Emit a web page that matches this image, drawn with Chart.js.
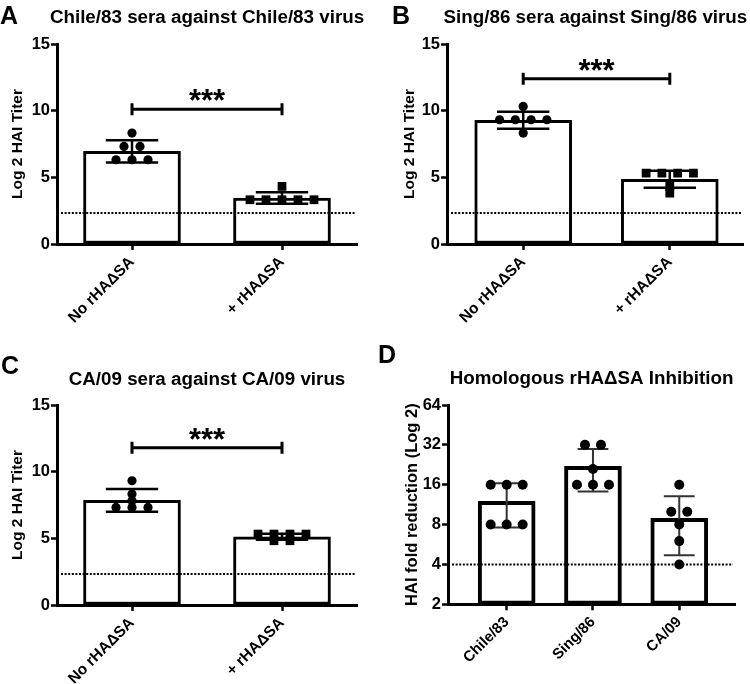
<!DOCTYPE html>
<html>
<head>
<meta charset="utf-8">
<script src="https://cdn.jsdelivr.net/npm/chart.js@4.4.1/dist/chart.umd.min.js"></script>
<style>
  body { margin: 0; background: #fff; }
  #wrap { position: relative; width: 750px; height: 684px; }
  .panel { position: absolute; width: 375px; height: 342px; }
</style>
</head>
<body>
<div id="wrap">
  <div class="panel" style="left:0;top:0"><canvas id="panelA" width="375" height="342"></canvas></div>
  <div class="panel" style="left:375px;top:0"><canvas id="panelB" width="375" height="342"></canvas></div>
  <div class="panel" style="left:0;top:342px"><canvas id="panelC" width="375" height="342"></canvas></div>
  <div class="panel" style="left:375px;top:342px"><canvas id="panelD" width="375" height="342"></canvas></div>
</div>
<script>
// categories and tick labels
const groupLabels = ['No rHA\u0394SA', '+ rHA\u0394SA'];
const strainLabels = ['Chile/83', 'Sing/86', 'CA/09'];
const titerTicks = [0, 5, 10, 15];
const foldTicks = [2, 4, 8, 16, 32, 64];

// A - Chile/83 (log2 HAI titer per animal)
const chileNo = [8.32, 7.32, 7.32, 6.32, 6.32, 6.32];
const chilePlus = [4.32, 3.32, 3.32, 3.32, 3.32, 3.32];
const chileMeans = [6.95, 3.45];
const chileSD = [0.83, 0.43];

// B - Sing/86
const singNo = [10.32, 9.32, 9.32, 9.32, 9.32, 8.32];
const singPlus = [5.32, 5.32, 5.32, 5.32, 4.32, 3.82];
const singMeans = [9.28, 4.85];
const singSD = [0.63, 0.64];

// C - CA/09
const caNo = [9.32, 8.32, 7.82, 7.32, 7.32, 7.32];
const caPlus = [5.32, 5.32, 5.32, 5.32, 4.82, 4.82];
const caMeans = [7.85, 5.12];
const caSD = [0.85, 0.23];

// D - fold reduction
const foldChile = [16, 16, 16, 8, 8, 8];
const foldSing = [32, 32, 21, 16, 16, 16];
const foldCA = [16, 10, 10, 8, 6, 4];
const foldMeans = [12, 22, 8.9];
const foldSD = [4.4, 7.8, 4.2];

const titerCutoff = 2.32;
const foldCutoff = 4;
const sigHeights = [10.1, 12.4, 11.8];
const sigLabel = '***';

const FONT = "'Liberation Sans', Arial, sans-serif";
Chart.defaults.font.family = FONT;
Chart.defaults.color = '#000';

// same values sit side by side, like the original scatter
function spread(values, center, gapUnits) {
  const counts = {}, seen = {};
  values.forEach(v => { counts[v] = (counts[v] || 0) + 1; });
  return values.map(v => {
    const k = seen[v] = (seen[v] || 0) + 1;
    return { x: center + (k - 1 - (counts[v] - 1) / 2) * gapUnits, y: v };
  });
}

function decor(p) {
  return {
    id: 'decor',
    afterDatasetDraw(chart, args) {
      if (args.index !== 0) return;
      const {ctx, chartArea: a, scales: {x, y}} = chart;
      ctx.save();
      // detection limit
      const yc = y.getPixelForValue(p.cutoff);
      ctx.strokeStyle = '#000';
      ctx.lineWidth = 2;
      ctx.setLineDash([2, 1.6]);
      ctx.beginPath();
      ctx.moveTo(a.left + 4, yc);
      ctx.lineTo(a.right - 2, yc);
      ctx.stroke();
      ctx.setLineDash([]);
      // SD error bars
      ctx.lineWidth = p.errWidth;
      ctx.strokeStyle = p.errColor;
      const cap = p.barPx * 0.27;
      p.means.forEach((m, i) => {
        const px = x.getPixelForValue(i);
        const t = y.getPixelForValue(m + p.sds[i]);
        const b = y.getPixelForValue(m - p.sds[i]);
        ctx.beginPath();
        ctx.moveTo(px, t); ctx.lineTo(px, b);
        ctx.moveTo(px - cap, t); ctx.lineTo(px + cap, t);
        ctx.moveTo(px - cap, b); ctx.lineTo(px + cap, b);
        ctx.stroke();
      });
      ctx.restore();
    },
    afterDraw(chart) {
      const {ctx, chartArea: a, scales: {x, y}} = chart;
      ctx.save();
      ctx.fillStyle = '#000';
      if (p.sig != null) {
        const x0 = x.getPixelForValue(0), x1 = x.getPixelForValue(1);
        const ys = y.getPixelForValue(p.sig);
        ctx.strokeStyle = '#000';
        ctx.lineWidth = 3;
        ctx.beginPath();
        ctx.moveTo(x0, ys); ctx.lineTo(x1, ys);
        ctx.moveTo(x0, ys - 6); ctx.lineTo(x0, ys + 6);
        ctx.moveTo(x1, ys - 6); ctx.lineTo(x1, ys + 6);
        ctx.stroke();
        ctx.font = 'bold 31px ' + FONT;
        ctx.textAlign = 'center';
        ctx.textBaseline = 'alphabetic';
        ctx.fillText(sigLabel, (x0 + x1) / 2, ys + 2);
      }
      ctx.font = 'bold 18.8px ' + FONT;
      ctx.textAlign = 'center';
      ctx.textBaseline = 'alphabetic';
      ctx.fillText(p.title, (a.left + a.right) / 2, p.titleY);
      ctx.font = 'bold 25px ' + FONT;
      ctx.textAlign = 'left';
      ctx.fillText(p.letter, p.letterX, p.letterY);
      ctx.restore();
    }
  };
}

function buildPanel(id, p) {
  const W = 375, H = 342;
  const unitPx = (p.right - p.left) / (p.xMax - p.xMin);
  const pts = [], styles = [], radii = [];
  p.groups.forEach((vals, i) => {
    spread(vals, i, 16 / unitPx).forEach(pt => {
      pts.push(pt);
      styles.push(p.marks[i]);
      radii.push(p.marks[i] === 'rect' ? 6.2 : p.dotR);
    });
  });
  const yScale = {
    type: p.yType,
    min: p.yMin,
    max: p.yMax,
    afterBuildTicks: s => { s.ticks = p.yTicks.map(v => ({ value: v })); },
    afterFit: s => { s.width = p.left; },
    grid: { drawOnChartArea: false, tickLength: 6, tickWidth: 2.5, tickColor: '#000' },
    border: { color: '#000', width: 3 },
    ticks: { color: '#000', padding: 1, font: { size: 16.5, weight: 'bold' }, callback: v => String(v) },
    title: { display: true, text: p.yTitle, color: '#000', font: { size: p.yTitleSize, weight: 'bold' }, padding: { top: p.yTitlePad, bottom: 0 } }
  };
  return new Chart(document.getElementById(id), {
    type: 'bar',
    data: {
      datasets: [
        {
          type: 'bar',
          data: p.means.map((m, i) => ({ x: i, y: m })),
          backgroundColor: '#fff',
          borderColor: '#000',
          borderWidth: p.barBorder,
          borderSkipped: false,
          barThickness: p.barPx,
          order: 2
        },
        {
          type: 'scatter',
          data: pts,
          pointStyle: styles,
          pointRadius: radii,
          backgroundColor: '#000',
          borderColor: '#000',
          borderWidth: 0,
          order: 1
        }
      ]
    },
    options: {
      responsive: false,
      animation: false,
      layout: { padding: { left: 0, top: p.top, right: W - p.right, bottom: 0 } },
      plugins: { legend: { display: false }, tooltip: { enabled: false } },
      scales: {
        x: {
          type: 'linear',
          offset: false,
          min: p.xMin,
          max: p.xMax,
          afterBuildTicks: s => { s.ticks = p.cats.map((_, i) => ({ value: i })); },
          afterFit: s => { s.height = H - p.bottom; },
          grid: { offset: false, drawOnChartArea: false, tickLength: 6, tickWidth: 2.5, tickColor: '#000' },
          border: { color: '#000', width: 3 },
          ticks: {
            color: '#000',
            padding: 3,
            minRotation: 45,
            maxRotation: 45,
            font: { size: p.xFont, weight: 'bold' },
            callback: v => p.cats[v]
          }
        },
        y: yScale
      }
    },
    plugins: [decor(p)]
  });
}

const titerBase = {
  cats: groupLabels, marks: ['circle', 'rect'], dotR: 4.6,
  yType: 'linear', yMin: 0, yMax: 15, yTicks: titerTicks,
  yTitle: 'Log 2 HAI Titer', yTitleSize: 15.5,
  cutoff: titerCutoff, barPx: 97, barBorder: 3, errWidth: 2.5, errColor: '#000',
  xMin: -0.5, xMax: 1.5, xFont: 15.5
};

buildPanel('panelA', Object.assign({}, titerBase, {
  groups: [chileNo, chilePlus], means: chileMeans, sds: chileSD, sig: sigHeights[0],
  left: 57, top: 44, right: 357, bottom: 244, yTitlePad: 8.5,
  title: 'Chile/83 sera against Chile/83 virus', titleY: 23, letter: 'A', letterX: 0, letterY: 24
}));

buildPanel('panelB', Object.assign({}, titerBase, {
  groups: [singNo, singPlus], means: singMeans, sds: singSD, sig: sigHeights[1],
  left: 72, top: 44, right: 373, bottom: 244, yTitlePad: 25, xMin: -0.52, xMax: 1.505,
  title: 'Sing/86 sera against Sing/86 virus', titleY: 23, letter: 'B', letterX: 17, letterY: 24
}));

buildPanel('panelC', Object.assign({}, titerBase, {
  groups: [caNo, caPlus], means: caMeans, sds: caSD, sig: sigHeights[2],
  left: 57, top: 63, right: 357, bottom: 263, yTitlePad: 8.5,
  title: 'CA/09 sera against CA/09 virus', titleY: 43, letter: 'C', letterX: 1, letterY: 32
}));

buildPanel('panelD', {
  cats: strainLabels, marks: ['circle', 'circle', 'circle'], dotR: 5,
  groups: [foldChile, foldSing, foldCA], means: foldMeans, sds: foldSD, sig: null,
  yType: 'logarithmic', yMin: 2, yMax: 64, yTicks: foldTicks,
  yTitle: 'HAI fold reduction (Log 2)', yTitleSize: 16.5, yTitlePad: 28,
  cutoff: foldCutoff, barPx: 57, barBorder: 4, errWidth: 2, errColor: '#333',
  left: 73, top: 63, right: 360, bottom: 262.3, xMin: -0.68, xMax: 2.646, xFont: 15,
  title: 'Homologous rHA\u0394SA Inhibition', titleY: 41.5, letter: 'D', letterX: 3, letterY: 21
});
</script>
</body>
</html>
